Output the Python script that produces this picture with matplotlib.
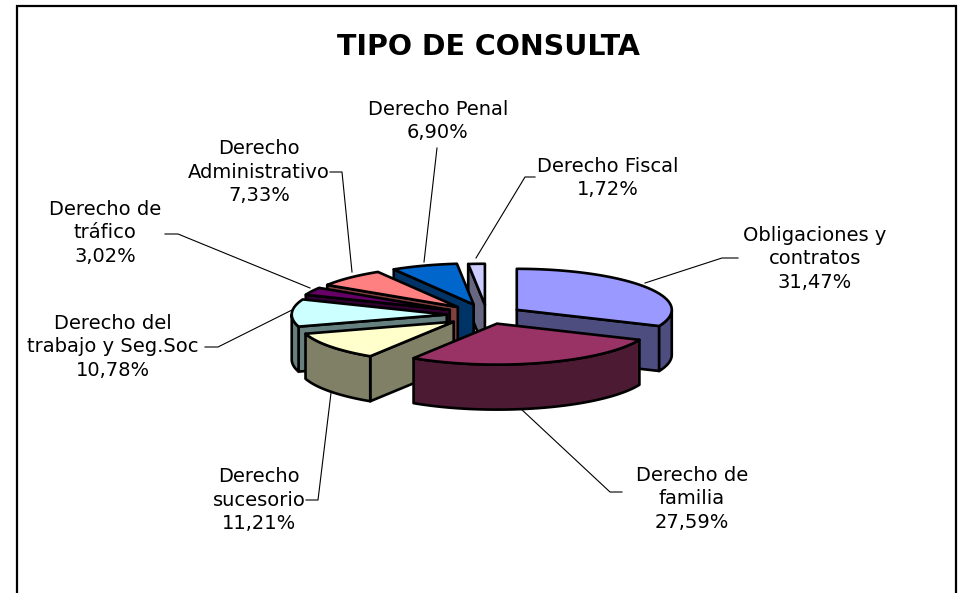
import numpy as np
import matplotlib
matplotlib.use('Agg')
import matplotlib.pyplot as plt
from matplotlib.patches import Polygon

# Datos
categorias = ['Obligaciones y\ncontratos', 'Derecho de\nfamilia', 'Derecho\nsucesorio',
              'Derecho del\ntrabajo y Seg.Soc', 'Derecho de\ntráfico',
              'Derecho\nAdministrativo', 'Derecho Penal', 'Derecho Fiscal']
valores = [31.47, 27.59, 11.21, 10.78, 3.02, 7.33, 6.90, 1.72]
colores = ['#9999FF', '#993366', '#FFFFCC', '#CCFFFF', '#660066', '#FF8080', '#0066CC', '#CCCCFF']
paredes = ['#4D4D80', '#4D1A33', '#808066', '#668080', '#330033', '#804040', '#003366', '#666680']
explode = [0.23, 0.22, 0.27, 0.26, 0.27, 0.27, 0.27, 0.25]

# Geometria de la tarta (pixeles)
cx, cy = 487, 315
rx, ry = 155, 41
alto = 45

# Centro de cada etiqueta y guia
pos_etiquetas = [(815, 259), (692, 499), (259, 500), (113, 347), (105, 233), (259, 172), (438, 121), (608, 178)]
guias = [[(738, 258), (722, 258), (645, 283)],
         [(622, 492), (610, 492), (520, 408)],
         [(306, 500), (318, 500), (331, 393)],
         [(205, 347), (218, 347), (292, 310)],
         [(165, 234), (178, 234), (310, 288)],
         [(330, 172), (342, 172), (352, 272)],
         [(437, 148), (424, 262)],
         [(535, 177), (525, 177), (476, 258)]]

fig = plt.figure(figsize=(9.61, 5.93), dpi=100, facecolor='white')
ax = fig.add_axes([0, 0, 1, 1])
ax.set_xlim(0, 961)
ax.set_ylim(593, 0)
ax.axis('off')

# Marco (sin linea inferior, la imagen esta cortada)
ax.plot([17, 17, 956, 956], [593, 6, 6, 593], color='black', lw=1.6, solid_joinstyle='miter')

ax.text(488, 47, 'TIPO DE CONSULTA', fontsize=20.5, fontweight='bold', ha='center', va='center')

# Angulos en grados, sentido horario desde el norte
total = sum(valores)
fin = np.cumsum(valores) / total * 360
ini = np.concatenate([[0], fin[:-1]])
medio = np.radians((ini + fin) / 2)


def borde(px, py, t):
    t = np.radians(t)
    return px + rx * np.sin(t), py - ry * np.cos(t)


def pared(puntos, color, z):
    ax.add_patch(Polygon(puntos, closed=True, facecolor=color, edgecolor='black', lw=1.9,
                         joinstyle='round', zorder=z))


# De atras hacia delante
orden = np.argsort(-np.cos(medio))
for z, i in enumerate(orden):
    px = cx + explode[i] * rx * np.sin(medio[i])
    py = cy - explode[i] * ry * np.cos(medio[i])
    z0 = 2 + z

    # Caras radiales visibles
    for ang, visible in ((ini[i], np.sin(np.radians(ini[i])) < -1e-6),
                         (fin[i], np.sin(np.radians(fin[i])) > 1e-6)):
        if visible:
            bx, by = borde(px, py, ang)
            pared([(px, py), (bx, by), (bx, by + alto), (px, py + alto)], paredes[i], z0)

    # Pared exterior (mitad delantera)
    a, b = max(ini[i], 90), min(fin[i], 270)
    if a < b:
        t = np.linspace(a, b, 40)
        bx, by = borde(px, py, t)
        pared(list(zip(bx, by)) + list(zip(bx[::-1], by[::-1] + alto)), paredes[i], z0)

    # Cara superior
    t = np.linspace(ini[i], fin[i], 60)
    bx, by = borde(px, py, t)
    pared([(px, py)] + list(zip(bx, by)), colores[i], z0)

# Etiquetas y guias
for nombre, valor, (x, y), guia in zip(categorias, valores, pos_etiquetas, guias):
    texto = nombre + '\n' + f'{valor:.2f}'.replace('.', ',') + '%'
    ax.text(x, y, texto, fontsize=14, ha='center', va='center', linespacing=1.33, color='black', zorder=30)
    ax.plot([p[0] for p in guia], [p[1] for p in guia], color='black', lw=0.8, zorder=1)

plt.savefig('out.png', dpi=100)
